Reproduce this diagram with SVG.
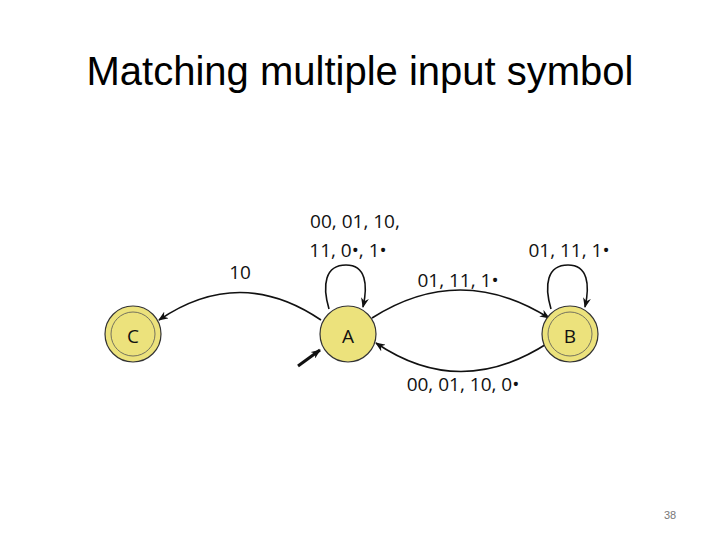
<svg xmlns="http://www.w3.org/2000/svg" width="720" height="540" viewBox="0 0 720 540">
<style>
.t{font-family:"Liberation Sans",Arial,sans-serif;fill:#000}
.l{font-family:"Open Sans","DejaVu Sans",sans-serif;font-size:19px;fill:#111}
.n{fill:#ece27c;stroke:#333;stroke-width:1.2}
.e{fill:none;stroke:#111;stroke-width:1.6;marker-end:url(#ah)}
</style>
<defs><marker id="ah" markerWidth="10" markerHeight="8" refX="9" refY="4" orient="auto" markerUnits="userSpaceOnUse"><path d="M0,0L10,4L0,8L3,4z" fill="#111"/></marker></defs>
<rect width="720" height="540" fill="#fff"/>
<text class="t" x="360" y="85" font-size="40" text-anchor="middle">Matching multiple input symbol</text>
<g id="connectors">
<path class="e" d="M321,320 Q240,265 159,320"/>
<path class="e" d="M372,318 Q460,262 549,318"/>
<path class="e" d="M548,343 Q460,400 376,343"/>
<path class="e" d="M329,309 C322,285 325,265 346,265 C366,265 368,285 363,307"/>
<path class="e" d="M551,309 C544,285 547,265 568,265 C588,265 590,285 585,307"/>
<path d="M298,366 L320,350" stroke="#111" stroke-width="3" fill="none" marker-end="url(#ah)"/>
</g>
<g id="C"><circle class="n" cx="133" cy="334" r="28"/><circle cx="133" cy="334" r="22" fill="none" stroke="#555" stroke-width="0.8"/><text class="l" x="133" y="343" font-size="24" text-anchor="middle">C</text></g>
<g id="A"><circle class="n" cx="348" cy="334" r="28"/><text class="l" x="348" y="343" font-size="24" text-anchor="middle">A</text></g>
<g id="B"><circle class="n" cx="570" cy="334" r="28"/><circle cx="570" cy="334" r="22" fill="none" stroke="#555" stroke-width="0.8"/><text class="l" x="570" y="343" font-size="24" text-anchor="middle">B</text></g>
<g id="labels">
<text class="l" x="355" y="228" text-anchor="middle">00, 01, 10,</text>
<text class="l" x="348" y="257" text-anchor="middle">11, 0•, 1•</text>
<text class="l" x="240" y="279" text-anchor="middle">10</text>
<text class="l" x="458" y="287" text-anchor="middle">01, 11, 1•</text>
<text class="l" x="569" y="257" text-anchor="middle">01, 11, 1•</text>
<text class="l" x="463" y="391" text-anchor="middle">00, 01, 10, 0•</text>
</g>
<text class="t" x="670" y="519" font-size="11" fill="#666" text-anchor="middle" style="fill:#777">38</text>
</svg>
